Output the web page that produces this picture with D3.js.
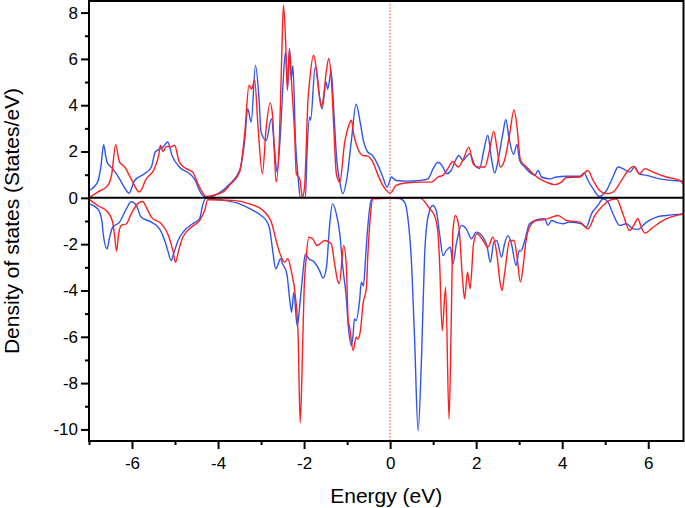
<!DOCTYPE html>
<html>
<head>
<meta charset="utf-8">
<script src="https://cdn.jsdelivr.net/npm/d3@7"></script>
<style>
  html, body { margin: 0; padding: 0; background: #fff; }
  svg { display: block; font-family: "Liberation Sans", Arial, sans-serif; }
</style>
</head>
<body>
<svg id="chart" width="685" height="508"></svg>
<script>
// ---- data: [energy (eV), DOS (States/eV)] ----
const upBlue = [
  [-7.0,0.32],[-6.80,0.68],[-6.72,1.4],[-6.66,2.30],[-6.62,1.9],[-6.58,1.54],[-6.45,1.26],[-6.29,0.82],
  [-6.16,0.4],[-6.07,0.20],[-5.94,0.75],[-5.71,1.04],[-5.55,1.33],[-5.46,1.98],[-5.28,2.19],[-5.17,2.41],
  [-5.07,1.83],[-4.90,1.33],[-4.66,1.04],[-4.55,0.82],[-4.39,0.18],[-4.24,0.0],[-4.0,0.18],[-3.73,0.6],
  [-3.5,1.18],[-3.38,2.48],[-3.31,3.85],[-3.23,3.27],[-3.13,5.72],[-3.05,4.35],[-3.0,2.84],[-2.88,2.48],
  [-2.76,3.42],[-2.69,2.19],[-2.63,1.11],[-2.55,2.77],[-2.49,4.93],[-2.43,6.30],[-2.38,4.79],[-2.34,6.45],
  [-2.30,5.08],[-2.26,5.72],[-2.20,2.48],[-2.14,0.9],[-2.09,0.03],[-1.97,0.0],[-1.93,2.05],[-1.87,3.49],
  [-1.85,3.35],[-1.74,5.65],[-1.64,4.35],[-1.58,3.85],[-1.49,5.0],[-1.45,4.7],[-1.37,5.48],[-1.31,3.78],
  [-1.24,1.62],[-1.17,0.68],[-1.10,0.18],[-1.0,0.9],[-0.90,2.48],[-0.79,4.04],[-0.69,3.2],[-0.63,2.55],
  [-0.52,1.98],[-0.41,1.83],[-0.28,1.40],[-0.17,0.9],[-0.07,0.46],[0.03,0.9],[0.14,0.75],[0.4,0.72],
  [0.69,0.75],[0.88,0.82],[1.0,1.26],[1.11,1.54],[1.23,1.33],[1.31,1.04],[1.42,1.18],[1.50,1.54],
  [1.60,1.83],[1.69,1.62],[1.85,1.91],[1.97,1.40],[2.08,1.26],[2.17,1.98],[2.27,2.70],[2.35,1.76],
  [2.43,1.07],[2.51,1.62],[2.62,2.77],[2.69,3.38],[2.76,2.62],[2.87,1.88],[2.95,2.31],[3.01,1.62],
  [3.13,1.33],[3.24,1.11],[3.36,0.97],[3.44,1.18],[3.52,0.90],[3.71,0.82],[3.87,0.90],[4.10,0.93],
  [4.41,0.93],[4.51,1.07],[4.60,0.75],[4.72,0.39],[4.87,0.06],[5.03,0.32],[5.18,0.90],[5.30,1.33],
  [5.41,1.26],[5.57,1.11],[5.69,1.33],[5.79,1.04],[5.96,0.97],[6.27,0.82],[6.58,0.75],[6.82,0.72]
];
const upRed = [
  [-7.0,0.0],[-6.80,0.25],[-6.56,0.54],[-6.47,1.04],[-6.38,2.30],[-6.29,1.54],[-6.17,1.33],[-6.02,0.82],
  [-5.83,0.25],[-5.67,0.82],[-5.48,1.26],[-5.38,1.83],[-5.34,2.27],[-5.28,2.0],[-5.20,2.22],[-5.10,2.2],
  [-5.01,2.27],[-4.90,1.54],[-4.74,1.26],[-4.59,1.11],[-4.43,0.46],[-4.27,0.06],[-4.13,0.1],[-3.85,0.3],
  [-3.73,0.55],[-3.5,1.1],[-3.38,2.78],[-3.28,4.86],[-3.22,4.7],[-3.15,5.08],[-3.07,3.06],[-2.97,1.04],
  [-2.88,3.06],[-2.79,4.1],[-2.73,3.49],[-2.65,0.68],[-2.57,2.77],[-2.51,6.8],[-2.48,8.32],[-2.43,6.8],
  [-2.39,4.64],[-2.34,6.4],[-2.28,4.64],[-2.22,2.77],[-2.18,1.04],[-2.10,0.82],[-2.04,0.03],[-1.99,0.46],
  [-1.91,4.2],[-1.87,5.08],[-1.78,6.16],[-1.70,5.37],[-1.60,3.92],[-1.56,4.2],[-1.48,5.5],[-1.43,6.01],
  [-1.37,5.22],[-1.31,3.06],[-1.25,1.04],[-1.17,0.68],[-1.06,2.34],[-0.96,3.13],[-0.90,3.35],[-0.85,2.77],
  [-0.75,2.12],[-0.63,1.83],[-0.52,1.8],[-0.40,1.54],[-0.28,0.97],[-0.17,0.54],[-0.05,0.25],[0.0,0.2],
  [0.14,0.54],[0.4,0.65],[0.69,0.68],[0.96,0.68],[1.11,0.90],[1.23,0.97],[1.34,1.26],[1.46,1.57],
  [1.58,1.33],[1.69,1.62],[1.83,2.19],[1.93,1.47],[2.04,1.33],[2.20,1.33],[2.31,2.05],[2.41,2.88],
  [2.48,2.19],[2.56,1.33],[2.66,1.62],[2.78,2.77],[2.88,3.81],[2.95,3.06],[3.03,1.62],[3.17,1.33],
  [3.32,1.04],[3.48,0.82],[3.63,0.68],[3.83,0.57],[3.98,0.68],[4.10,0.88],[4.41,0.90],[4.60,1.18],
  [4.72,0.75],[4.87,0.32],[5.03,0.18],[5.18,0.25],[5.38,0.75],[5.53,1.18],[5.66,1.36],[5.80,1.04],
  [5.92,1.26],[6.11,1.11],[6.42,0.90],[6.73,0.75],[6.82,0.6]
];
const downBlue = [
  [-7.0,-0.26],[-6.80,-0.47],[-6.70,-0.98],[-6.67,-1.55],[-6.58,-2.2],[-6.52,-1.7],[-6.45,-1.27],[-6.29,-1.05],
  [-6.13,-0.47],[-6.02,-0.17],[-5.90,-0.33],[-5.79,-0.83],[-5.55,-1.05],[-5.36,-1.34],[-5.24,-1.84],[-5.17,-2.27],
  [-5.09,-2.71],[-5.03,-2.4],[-4.93,-1.84],[-4.78,-1.41],[-4.59,-1.12],[-4.43,-0.9],[-4.35,-0.26],[-4.27,0.0],
  [-3.97,-0.08],[-3.5,-0.26],[-3.19,-0.54],[-3.0,-0.76],[-2.88,-0.98],[-2.80,-1.34],[-2.73,-2.27],[-2.66,-3.07],
  [-2.62,-2.95],[-2.55,-2.63],[-2.50,-2.85],[-2.40,-3.28],[-2.34,-4.29],[-2.29,-4.94],[-2.24,-4.08],[-2.16,-5.52],
  [-2.09,-4.44],[-2.03,-3.28],[-1.97,-2.42],[-1.89,-2.63],[-1.76,-2.78],[-1.64,-3.14],[-1.56,-3.46],[-1.48,-3.0],
  [-1.41,-1.27],[-1.34,-0.26],[-1.25,-0.69],[-1.17,-1.55],[-1.10,-3.0],[-1.02,-4.29],[-0.97,-5.59],[-0.90,-6.38],
  [-0.86,-5.88],[-0.83,-5.23],[-0.79,-5.3],[-0.71,-4.44],[-0.67,-3.64],[-0.62,-3.8],[-0.57,-2.56],[-0.52,-1.27],
  [-0.44,-0.11],[-0.38,0.0],[0.22,-0.03],[0.34,-0.2],[0.41,-0.83],[0.49,-2.56],[0.57,-6.16],[0.65,-10.06],
  [0.73,-6.89],[0.80,-2.56],[0.88,-0.83],[0.99,-0.33],[1.07,-0.54],[1.15,-1.55],[1.23,-2.49],[1.31,-2.27],
  [1.40,-2.13],[1.46,-2.85],[1.54,-1.98],[1.66,-1.19],[1.77,-1.34],[1.89,-1.77],[2.0,-1.48],[2.16,-1.70],
  [2.25,-2.06],[2.33,-2.78],[2.41,-1.92],[2.48,-1.85],[2.59,-2.56],[2.66,-1.98],[2.74,-1.63],[2.82,-1.98],
  [2.93,-2.92],[3.0,-2.27],[3.04,-2.3],[3.13,-1.84],[3.24,-1.12],[3.40,-0.95],[3.59,-0.9],[3.67,-1.19],
  [3.75,-0.98],[3.88,-1.07],[4.02,-1.12],[4.17,-1.05],[4.45,-1.12],[4.56,-1.27],[4.68,-0.69],[4.83,-0.33],
  [4.95,-0.04],[5.07,-0.2],[5.18,-0.69],[5.34,-1.19],[5.49,-1.12],[5.65,-1.34],[5.76,-1.36],[5.96,-1.05],
  [6.19,-0.83],[6.42,-0.76],[6.82,-0.69]
];
const downRed = [
  [-7.0,-0.05],[-6.80,-0.33],[-6.56,-0.62],[-6.45,-1.05],[-6.41,-1.55],[-6.36,-2.3],[-6.31,-1.55],[-6.25,-1.19],
  [-6.13,-1.12],[-6.02,-0.69],[-5.87,-0.26],[-5.75,-0.16],[-5.67,-0.4],[-5.55,-0.83],[-5.32,-1.12],[-5.17,-1.55],
  [-5.05,-2.27],[-4.99,-2.78],[-4.92,-2.3],[-4.82,-1.7],[-4.62,-1.27],[-4.43,-0.98],[-4.31,-0.54],[-4.24,-0.08],
  [-3.66,-0.11],[-3.27,-0.26],[-2.96,-0.54],[-2.76,-1.05],[-2.65,-1.84],[-2.57,-2.35],[-2.45,-2.78],[-2.38,-2.63],
  [-2.30,-3.14],[-2.20,-4.29],[-2.14,-5.88],[-2.09,-9.70],[-2.04,-6.89],[-2.0,-4.0],[-1.95,-2.56],[-1.89,-1.70],
  [-1.80,-1.77],[-1.70,-2.06],[-1.52,-1.84],[-1.37,-1.98],[-1.29,-2.85],[-1.21,-3.64],[-1.18,-3.7],[-1.08,-2.06],
  [-1.02,-2.85],[-0.97,-5.44],[-0.95,-5.5],[-0.86,-6.6],[-0.79,-6.02],[-0.75,-6.1],[-0.69,-5.73],[-0.63,-4.58],
  [-0.55,-3.86],[-0.52,-2.56],[-0.46,-0.83],[-0.40,-0.04],[0.69,0.0],[0.92,-0.47],[1.03,-0.76],[1.11,-1.48],
  [1.15,-2.78],[1.21,-5.73],[1.29,-3.86],[1.37,-9.55],[1.42,-5.44],[1.46,-1.41],[1.52,-0.76],[1.60,-1.27],
  [1.68,-3.43],[1.73,-4.36],[1.80,-3.21],[1.86,-3.93],[1.94,-1.98],[2.02,-1.55],[2.16,-1.84],[2.27,-2.13],
  [2.39,-1.70],[2.48,-2.42],[2.55,-3.57],[2.60,-4.0],[2.66,-3.28],[2.78,-1.84],[2.88,-1.84],[2.95,-2.56],
  [3.03,-3.64],[3.09,-3.0],[3.15,-1.98],[3.24,-1.27],[3.40,-0.98],[3.55,-0.95],[3.67,-0.9],[3.90,-0.76],
  [4.10,-0.98],[4.41,-1.05],[4.60,-1.34],[4.76,-0.76],[4.95,-0.33],[5.10,-0.11],[5.26,-0.04],[5.41,-0.69],
  [5.57,-1.41],[5.66,-1.2],[5.76,-0.9],[5.84,-1.27],[5.92,-1.52],[6.11,-1.27],[6.34,-0.98],[6.66,-0.76],
  [6.82,-0.69]
];
const xDomain = [-7, 6.82];
const yDomain = [-10.5, 8.5];
const xMajorTicks = [-6, -4, -2, 0, 2, 4, 6];
const xMinorTicks = [-7, -5, -3, -1, 1, 3, 5];
const yMajorTicks = [-10, -8, -6, -4, -2, 0, 2, 4, 6, 8];
const yMinorTicks = [-9, -7, -5, -3, -1, 1, 3, 5, 7];
const fermiLevel = [0];
const xTitle = "Energy (eV)";
const yTitle = "Density of states (States/eV)";
const seriesColors = { blue: "#2f55f0", red: "#ff1f1f" };

// ---- layout ----
const svg = d3.select("#chart");
const L = 89, R = 683.5, T = 1, B = 441;
const x = d3.scaleLinear().domain(xDomain).range([L, R]);
const y = d3.scaleLinear().domain(yDomain).range([B, T]);

svg.append("defs").append("clipPath").attr("id", "clip")
  .append("rect").attr("x", L).attr("y", T).attr("width", R - L).attr("height", B - T);

const plot = svg.append("g").attr("clip-path", "url(#clip)");

const line = d3.line().x(d => x(d[0])).y(d => y(d[1])).curve(d3.curveMonotoneX);

// Fermi level dotted line
plot.selectAll(".fermi").data(fermiLevel).join("line")
  .attr("x1", d => x(d)).attr("x2", d => x(d))
  .attr("y1", T).attr("y2", B)
  .attr("stroke", "#ff2a2a").attr("stroke-width", 1.1)
  .attr("stroke-dasharray", "1.2,2");

const series = [
  { data: upBlue, color: seriesColors.blue },
  { data: downBlue, color: seriesColors.blue },
  { data: upRed, color: seriesColors.red },
  { data: downRed, color: seriesColors.red }
];
plot.selectAll(".dos").data(series).join("path")
  .attr("fill", "none")
  .attr("stroke", d => d.color)
  .attr("stroke-width", 1.4)
  .attr("stroke-linejoin", "round")
  .attr("d", d => line(d.data));

// zero line
plot.append("line")
  .attr("x1", L).attr("x2", R).attr("y1", y(0)).attr("y2", y(0))
  .attr("stroke", "#000").attr("stroke-width", 2);

// axes
const fontSize = 17;
svg.append("g").attr("transform", `translate(0,${B})`)
  .call(d3.axisBottom(x).tickValues(xMajorTicks).tickSize(8).tickPadding(8).tickFormat(d3.format("d")));
svg.append("g").attr("transform", `translate(0,${B})`)
  .call(d3.axisBottom(x).tickValues(xMinorTicks).tickSize(4).tickFormat(""));
svg.append("g").attr("transform", `translate(${L},0)`)
  .call(d3.axisLeft(y).tickValues(yMajorTicks).tickSize(8).tickPadding(3).tickFormat(d3.format("d")));
svg.append("g").attr("transform", `translate(${L},0)`)
  .call(d3.axisLeft(y).tickValues(yMinorTicks).tickSize(4).tickFormat(""));

svg.selectAll(".domain").remove();
svg.selectAll(".tick line").attr("stroke", "#000").attr("stroke-width", 2);
svg.selectAll(".tick text")
  .attr("font-size", fontSize)
  .attr("font-family", "'Liberation Sans', Arial, sans-serif")
  .attr("fill", "#000")
  .text(function() { return d3.select(this).text().replace("−", "-"); });

// frame
svg.append("rect")
  .attr("x", L).attr("y", T).attr("width", R - L).attr("height", B - T)
  .attr("fill", "none").attr("stroke", "#000").attr("stroke-width", 2);

// titles
svg.append("text")
  .attr("x", (L + R) / 2).attr("y", 503)
  .attr("text-anchor", "middle").attr("font-size", 21).attr("fill", "#000")
  .text(xTitle);
svg.append("text")
  .attr("transform", `translate(19,${(T + B) / 2}) rotate(-90)`)
  .attr("text-anchor", "middle").attr("font-size", 21).attr("fill", "#000")
  .text(yTitle);
</script>
</body>
</html>
